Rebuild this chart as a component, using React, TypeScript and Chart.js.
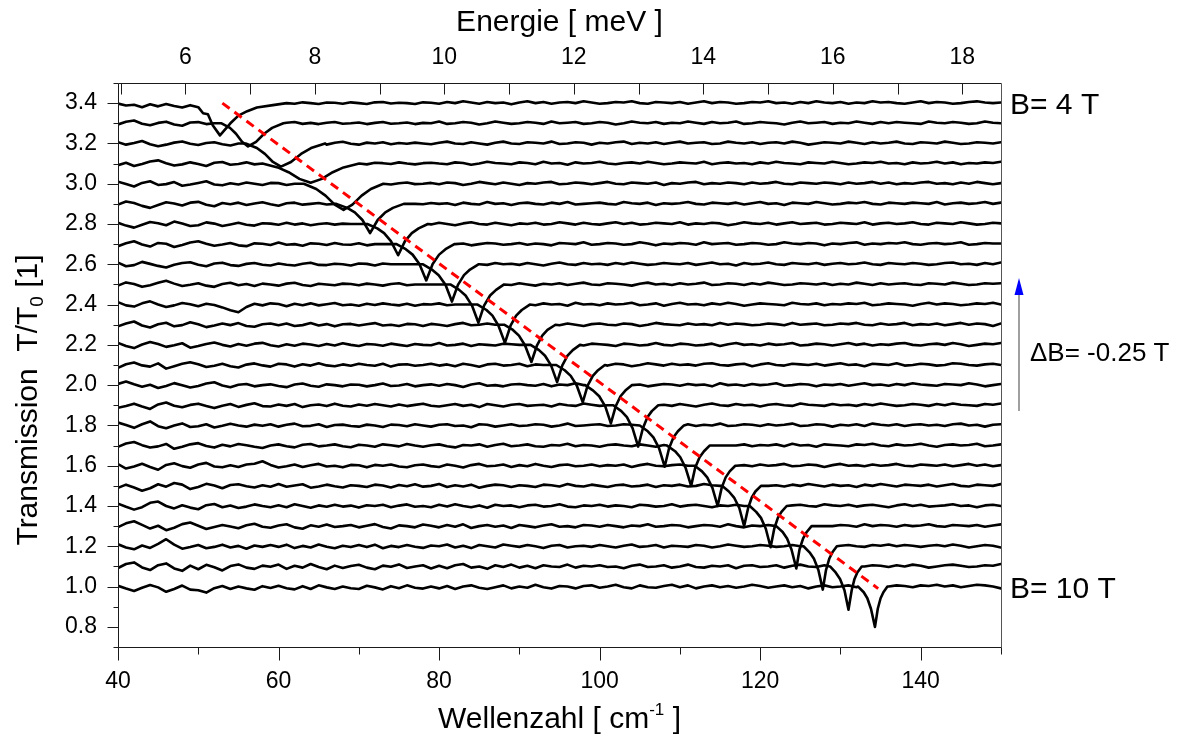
import React, { useEffect, useRef } from "react";
import { Chart, registerables } from "chart.js";

Chart.register(...registerables);

// ---------- axis definitions ----------
const CM_PER_MEV = 8.0655;
const wavenumberMin = 40;
const wavenumberMax = 150;
const transmissionMin = 0.7;
const transmissionMax = 3.5;
const wavenumberMajorTicks = [40, 60, 80, 100, 120, 140];
const wavenumberMinorTicks = [50, 70, 90, 110, 130, 150];
const energyMajorTicks = [6, 8, 10, 12, 14, 16, 18];
const energyMinorTicks = [5, 7, 9, 11, 13, 15, 17];
const transmissionMajorTicks = [0.8, 1.0, 1.2, 1.4, 1.6, 1.8, 2.0, 2.2, 2.4, 2.6, 2.8, 3.0, 3.2, 3.4];
const transmissionMinorTicks = [0.7, 0.9, 1.1, 1.3, 1.5, 1.7, 1.9, 2.1, 2.3, 2.5, 2.7, 2.9, 3.1, 3.3, 3.5];

// ---------- traces ----------
// magnetic field of each spectrum (bottom -> top) and its vertical offset
const fieldsTesla = [10, 9.75, 9.5, 9.25, 9, 8.75, 8.5, 8.25, 8, 7.75, 7.5, 7.25, 7, 6.75, 6.5, 6.25, 6, 5.75, 5.5, 5.25, 5, 4.75, 4.5, 4.25, 4];
const baselines = [1.0, 1.1, 1.2, 1.3, 1.4, 1.5, 1.6, 1.7, 1.8, 1.9, 2.0, 2.1, 2.2, 2.3, 2.4, 2.5, 2.6, 2.7, 2.8, 2.9, 3.0, 3.1, 3.2, 3.3, 3.4];

// sampling grid of the spectra (cm^-1), one point per wavenumber
const gridStart = 40;
const gridStep = 1;

// deviation from the baseline (units of 0.001) at x = 40,41,...,150
const devB10_00 = [4,-10,-22,-6,8,-4,-26,-12,5,-15, -18,-30,-8,3,-12,0,-9,-16,2,-7, 4,-8,-14,2,-12,6,-4,-12,0,-8, -12,4,-4,-14,2,-8,6,-6,-10,0, -9,3,-12,0,6,-6,-12,-3,6,-9, 0,-6,9,-3,-10,3,0,-9,3,6, -6,0,9,-3,-9,6,-3,-6,3,9, -3,6,-9,0,6,-3,3,-6,0,9, 3,-6,0,6,-3,3,-9,0,6,-3, 0,6,-3,3,0,0,0,6,3,-3, 6,3,9,0,6,-3,3,9,6,0, -9];
const devB09_75 = [-8,12,20,-5,-18,6,15,-10,-22,4, -14,8,-4,-20,2,10,-6,-12,4,-2, 9,-12,3,-6,12,-3,-14,4,-8,2, 8,-6,-14,4,-2,10,-8,0,6,-10, 3,-9,6,12,-6,0,-12,6,-3,9, -6,3,-9,6,0,-3,9,-6,3,0, 6,-3,0,-9,3,9,-3,0,6,-6, 0,9,-3,-6,3,0,6,-9,3,6, -3,0,6,-6,3,9,0,-3,6,0, 3,0,0,0,6,3,-3,6,0,9, 3,-6,0,6,9,3,-3,0,6,3, 12];
const devB09_50 = [10,-6,-15,4,-8,12,35,8,-12,-4, 6,-10,-3,8,-6,2,-12,4,-3,6, -3,8,-9,2,-6,9,-2,-10,3,-4, 6,-4,8,-10,2,-4,6,-2,-8,4, 0,9,-6,3,-9,6,0,-6,9,3, -3,6,0,-9,3,6,-6,0,3,-3, 6,0,-6,3,9,-3,0,6,-6,3, 0,-3,6,3,-6,0,9,3,-3,0, 6,3,-3,0,6,0,0,0,0,0, 3,6,0,-3,6,3,9,0,6,3, -3,3,6,0,9,3,-6,0,6,3, -6];
const devB09_25 = [-5,14,24,6,-12,2,-20,-8,10,18, 2,-14,-4,6,-2,-10,4,12,-3,-8, 3,9,-6,-13,4,-3,8,-4,0,6, -6,2,10,-4,-12,4,0,-6,8,2, -6,6,-3,9,-9,0,6,-3,3,-9, 6,0,-6,3,9,-3,0,-6,6,3, -3,6,0,-6,3,0,9,-3,0,6, 3,-6,0,6,3,-3,9,0,-6,3, 0,6,-3,3,0,0,0,0,0,0, 6,3,-3,9,0,6,3,-3,6,0, 3,9,0,-3,6,3,0,6,-3,3, 9];
const devB09_00 = [12,-4,-18,-6,16,22,0,-12,4,-8, -16,4,10,-6,2,-10,-3,8,0,-6, 4,-6,9,0,-9,3,-4,6,-3,2, -8,4,0,6,-6,2,8,-4,0,-6, 6,-3,9,0,-6,3,-9,6,0,3, -6,3,6,-3,0,9,-3,-6,3,0, 6,-3,3,0,-6,6,3,-3,0,9, -3,3,6,0,-6,3,0,6,0,0, 0,0,0,0,3,6,0,-3,9,3, 0,6,-3,3,6,0,-6,3,9,0, 6,-3,0,3,9,0,3,-6,3,6, 0];
const devB08_75 = [-10,6,-8,-24,-12,8,-4,14,6,-16, -6,10,2,-12,4,8,-2,-8,3,-4, 9,-4,2,8,-9,-3,6,-2,-8,3, 0,-6,6,2,-8,4,-2,8,-4,0, 9,-6,3,-3,6,-9,0,6,3,-6, 3,0,-6,6,3,-3,9,0,-3,6, 0,-6,3,6,-3,0,6,-6,3,0, 6,-3,0,9,3,0,0,0,0,0, 0,0,3,-3,6,0,9,3,-3,6, 0,3,-6,6,0,9,3,-3,6,3, 0,6,-3,3,9,0,-3,6,3,0, 9];
const devB08_50 = [8,-14,-4,10,-6,-20,4,12,-2,-10, 6,14,-4,-8,2,-6,6,10,22,4, -9,-3,6,-6,2,9,-4,0,-8,4, 2,-8,4,0,6,-4,-8,2,6,-2, -6,6,0,-9,3,9,-3,0,6,-6, 3,-3,9,0,-6,3,6,-3,0,6, -3,3,0,6,-6,3,9,0,-3,3, 6,0,0,0,0,0,0,0,3,-3, 6,0,3,9,-3,0,6,3,-6,3, 9,0,3,-3,6,0,3,9,0,-3, 6,3,0,6,-3,3,9,0,6,-3, 3];
const devB08_25 = [-6,10,18,2,-10,-4,8,-16,-6,6, 12,-2,-10,4,-4,8,2,-6,-12,0, 6,-3,-9,4,8,-4,0,6,-3,-8, 4,0,-6,6,2,-4,8,0,-6,2, 6,-3,-9,3,0,6,-6,3,9,-3, 0,6,-3,-6,3,0,9,-3,3,0, -6,3,6,0,-3,6,0,-6,3,6, 0,0,0,0,0,0,0,0,6,-3, 3,0,6,-3,9,0,3,-6,6,3, 0,-3,6,3,9,0,-3,6,0,3, 9,0,-6,3,6,0,3,9,-3,0, 6];
const devB08_00 = [14,2,-12,6,20,-4,-14,0,10,-8, -4,6,-10,-2,8,0,-6,4,-2,6, -6,3,9,-4,-2,6,-8,2,4,-3, -6,4,0,-8,4,2,-4,6,0,-6, 3,6,-3,0,-9,6,3,-6,0,6, -3,0,6,3,-6,0,9,-3,0,3, 6,-3,0,6,3,0,0,0,0,0, 0,6,-3,3,0,9,-3,0,6,3, -3,6,0,3,9,-3,0,6,3,-6, 3,0,6,-3,9,3,0,6,-3,3, 6,0,3,-3,6,9,0,3,-6,3, 6];
const devB07_75 = [-12,-4,8,-6,-18,4,14,-2,-10,2, 8,-4,-14,-2,6,-8,2,10,-4,-6, 4,-3,6,-9,0,4,-4,8,-2,-6, 4,-2,6,0,-6,4,-4,2,8,-2, -6,0,6,-3,3,-9,6,0,-6,3, 6,-3,0,3,-6,6,0,-3,9,3, -3,0,0,0,0,0,0,0,3,-3, 6,0,-6,3,9,0,-3,6,0,3, -6,3,6,0,-3,9,3,0,-3,6, 0,3,-3,6,0,9,3,-3,0,6, 3,-3,6,0,9,3,0,-3,6,3, 9];
const devB07_50 = [6,18,4,-8,2,-14,-4,10,0,-12, -4,8,14,-2,-10,2,6,-6,0,4, -4,-10,3,8,-3,-8,4,0,-6,3, 2,-6,0,8,-4,-2,6,-6,0,4, -3,6,0,-9,3,9,-3,0,-6,3, 6,0,-3,6,-6,3,0,9,0,0, 0,0,0,0,0,3,-6,0,6,3, -3,6,0,3,-6,9,0,3,-3,6, 0,3,9,-3,0,6,3,-6,3,0, 6,-3,3,9,0,3,-3,6,0,9, 3,0,-3,6,3,0,9,3,-6,0, 6];
const devB07_25 = [-14,4,12,-2,-8,8,-18,-6,6,14, 4,-10,-4,6,-6,-12,2,8,-2,-8, 6,3,-8,4,-3,9,-2,-6,3,-4, 6,0,-4,6,-8,2,4,-4,0,6, -3,3,-6,6,0,-9,3,6,-3,0, 6,-6,3,0,0,0,0,0,0,0, 0,-3,6,3,-6,0,9,3,-3,6, 0,3,-3,6,9,0,-3,3,6,-6, 3,9,0,-3,6,3,0,6,-3,3, 9,0,3,-6,6,3,0,9,-3,0, 6,3,-3,0,9,6,0,-3,3,6, 0];
const devB07_00 = [10,-6,-16,2,14,4,-10,-2,8,-14, -6,4,12,0,-8,4,-4,6,10,-2, -8,3,-4,6,2,-6,4,-3,8,0, -6,4,2,-4,6,0,-6,4,0,-2, 9,-3,0,6,-6,3,0,-3,6,3, 0,0,0,0,0,0,0,0,-3,6, 3,0,-6,6,3,-3,0,9,0,-3, 6,3,-3,0,6,-6,3,9,0,3, -3,6,0,3,9,-3,0,6,3,-3, 3,9,0,6,-3,3,0,6,9,0, -3,3,6,0,9,3,-6,0,6,3, 9];
const devB06_75 = [-8,6,16,-4,-14,2,10,-8,-2,12, 2,-12,-4,6,-2,8,-6,-10,2,6, -3,6,-6,-2,8,-4,3,-8,2,4, -4,2,8,-4,0,-6,4,2,-6,4, 0,-6,3,9,-3,0,6,0,0,0, 0,0,0,0,0,-3,6,0,-6,3, 6,0,-3,6,3,-6,0,9,3,0, -3,6,0,3,-3,9,0,6,3,-3, 0,6,3,-3,9,0,3,6,-3,0, 6,3,9,0,-3,6,0,3,9,-3, 3,0,6,-3,3,9,0,6,3,-6, 6];
const devB06_50 = [12,-4,-10,6,16,0,-12,-4,8,2, -8,4,-2,-14,-28,-38,-12,4,-4,6, 3,-8,4,-3,6,-4,2,8,-3,0, -6,4,-2,6,0,-4,4,-6,2,0, 6,-3,0,0,0,0,0,0,0,0, 0,0,-3,6,0,3,-6,9,0,3, -3,6,0,3,9,-3,0,6,-6,3, 9,0,3,-3,6,0,9,3,-6,0, 6,3,0,-3,9,3,0,6,-3,3, 0,6,3,9,-3,0,6,3,0,-6, 3,9,0,6,3,-3,0,6,3,9, 0];
const devB06_25 = [-6,10,2,-12,-4,8,18,4,-8,-2, 6,-6,-12,2,8,-4,2,-8,4,0, -6,4,8,-3,-8,3,0,-4,4,2, -4,4,0,-6,2,6,-4,0,0,0, 0,0,0,0,0,0,0,0,0,-3, 6,0,-6,3,0,6,-3,3,9,0, -3,6,3,0,-6,3,9,0,3,-3, 6,0,3,9,-3,0,6,3,-3,6, 0,9,3,-3,0,6,3,0,6,-3, 3,0,9,3,-3,6,0,3,6,0, -3,6,3,0,9,3,-3,0,6,3, 6];
const devB06_00 = [8,-10,-4,12,2,-8,-16,-2,6,10, -2,-10,4,8,-4,-8,2,6,-2,-6, 4,-2,-6,3,8,-3,-4,3,0,-6, 4,2,-6,4,0,0,0,0,0,0, 0,0,0,0,0,0,-3,6,0,3, -3,6,0,-6,3,9,0,-3,6,0, 3,-3,6,0,9,3,-3,0,6,3, 0,6,-3,3,9,0,3,-6,6,0, 3,9,0,-3,6,3,0,6,-3,3, 6,0,3,9,0,-3,6,3,0,6, 3,-3,0,6,9,0,3,-3,6,0, 9];
const devB05_75 = [-10,4,14,-2,-12,6,2,-14,-4,8, 14,2,-8,-2,6,-6,-10,4,2,-4, 8,-3,0,-8,4,2,-4,6,-2,-3, 4,-6,0,0,0,0,0,0,0,0, 0,0,0,3,-6,0,6,3,-3,0, 6,-3,3,0,-6,6,3,0,9,-3, 0,6,3,-3,0,9,3,-6,3,0, 6,3,-3,9,0,3,6,-3,0,6, 3,-3,0,9,3,0,6,3,-6,3, 0,6,9,-3,3,0,6,3,9,0, -3,3,6,0,3,9,-3,0,6,3, 3];
const devB05_50 = [6,-8,-18,-4,10,4,-6,12,2,-10, -6,8,2,-10,-2,6,-4,-8,4,2, -4,6,-3,3,-6,0,4,-3,2,0, 0,0,0,0,0,0,0,0,0,-2, 6,0,-6,3,9,0,-3,6,0,-6, 3,0,6,-3,0,9,3,-3,6,0, -3,3,9,0,6,-3,0,6,3,0, 9,-3,3,0,6,3,-6,0,9,3, 0,6,-3,3,9,0,3,6,-3,0, 6,3,0,9,-3,3,6,0,3,9, 0,-3,6,3,0,9,3,-3,0,6, 3];
const devB05_25 = [-4,12,4,-10,-20,-6,8,2,-8,6, 10,-4,-12,4,-2,6,-6,2,8,-2, -9,3,6,-4,0,4,-3,0,0,0, 0,0,0,0,0,0,0,0,-2,4, 0,3,-6,6,0,-3,9,0,3,-6, 3,6,0,-3,6,0,9,-3,0,3, 6,0,-3,9,3,0,6,-6,3,0, 3,9,0,-3,6,3,0,6,-3,3, 9,0,3,-6,6,3,0,9,3,-3, 0,6,3,9,0,-3,6,3,0,6, 3,0,9,-3,3,6,0,3,9,0, 6];
const devB05_00 = [10,-2,-14,4,12,-6,-2,8,-10,-4, 4,12,-4,-8,2,-4,6,0,-6,4, 3,-6,0,0,0,0,0,0,0,0, 0,0,0,0,-4,2,6,-2,0,4, -3,6,3,-6,0,9,3,-3,6,0, -6,3,0,6,9,-3,0,6,3,-3, 3,9,0,-3,6,3,0,6,-6,3, 0,6,9,-3,3,0,6,3,-3,6, 0,3,9,0,-3,6,3,0,6,3, -3,6,0,3,9,0,6,-3,3,0, 6,9,0,3,-3,6,0,9,3,-3, 3];
const devB04_75 = [-8,4,-12,-2,10,16,2,-10,-4,6, -2,-12,4,8,-6,-2,6,-4,0,0, 0,0,0,0,0,0,0,0,0,0, 0,-4,4,2,-2,6,0,-4,2,4, 0,-3,6,3,-6,0,9,3,0,-3, 6,3,-3,9,0,3,-6,6,0,3, 9,0,-3,3,6,0,9,3,-3,0, 6,3,0,9,-3,3,6,0,3,-3, 6,0,9,3,0,-3,6,3,0,9, 3,-3,0,6,3,9,0,3,-3,6, 0,3,9,0,6,-3,3,0,6,3, 9];
const devB04_50 = [6,-6,2,12,-4,-14,-6,4,10,-2, -8,2,6,-4,-10,0,0,0,0,0, 0,0,0,0,0,0,-6,3,8,-2, -6,4,0,6,-4,2,-2,4,0,-4, 3,9,0,-3,6,0,-6,3,9,0, -3,6,3,0,9,-3,0,6,3,-6, 3,0,6,9,-3,3,0,6,-3,3, 9,0,3,6,-3,0,9,3,0,6, -3,3,6,0,9,3,-6,0,6,3, 0,9,3,-3,6,0,3,9,0,-3, 6,3,0,9,3,-3,0,6,3,0, 6];
const devB04_25 = [-6,8,14,-2,-10,2,8,-6,-12,4, 6,-4,0,0,0,0,0,0,0,0, 0,3,6,-3,2,-4,3,6,-2,0, 4,-4,2,6,-2,0,4,-4,2,0, 9,-3,0,6,3,-6,0,9,3,-3, 0,6,3,-3,9,0,3,6,-3,0, 6,3,-6,0,9,3,0,6,-3,3, 0,9,3,-3,6,0,3,9,-3,0, 6,3,0,-6,3,9,0,3,6,-3, 3,0,9,3,-3,6,0,6,3,0, -3,9,3,0,6,3,-3,0,9,3, 0];
const devB04_00 = [-2,-12,-8,-20,-6,-16,-4,-14,-22,-10, -20,0,0,0,0,0,0,0,0,0, 0,6,-3,4,0,-4,3,2,-3,4, 0,-4,4,6,-2,2,0,-4,4,2, -3,6,0,9,3,-3,6,0,3,-6, 3,9,0,6,-3,3,6,0,9,3, -3,0,6,3,9,0,-3,6,3,0, 6,-3,3,9,0,6,3,-3,0,6, 3,9,0,3,-3,6,0,9,3,0, 6,-3,3,0,9,3,6,0,-3,3, 9,0,6,3,-3,0,6,9,3,0, 3];

// cyclotron-resonance dip of each spectrum: [wavenumber, deviation (0.001)]
const dipB10_00 = [[132.2,0],[132.9,-28],[133.35,-58],[133.8,-110],[134.3,-200],[134.65,-110],[135.0,-58],[135.35,-28],[135.85,0]];
const dipB09_75 = [[128.7,0],[129.4,-30],[129.95,-62],[130.5,-118],[131.0,-215],[131.4,-118],[131.75,-62],[132.1,-30],[132.65,0]];
const dipB09_50 = [[125.4,0],[126.15,-30],[126.7,-62],[127.25,-118],[127.8,-215],[128.2,-118],[128.6,-62],[129.0,-30],[129.55,0]];
const dipB09_25 = [[122.0,0],[122.8,-29],[123.35,-61],[123.9,-116],[124.5,-210],[124.9,-116],[125.35,-61],[125.8,-29],[126.4,0]];
const dipB09_00 = [[118.7,0],[119.5,-29],[120.1,-59],[120.7,-113],[121.3,-205],[121.75,-113],[122.2,-59],[122.65,-29],[123.3,0]];
const dipB08_75 = [[115.25,0],[116.1,-28],[116.75,-58],[117.4,-110],[118.0,-200],[118.5,-110],[118.95,-58],[119.4,-28],[120.1,0]];
const dipB08_50 = [[111.85,0],[112.75,-28],[113.4,-58],[114.05,-110],[114.7,-200],[115.2,-110],[115.7,-58],[116.2,-28],[116.9,0]];
const dipB08_25 = [[108.4,0],[109.4,-28],[110.05,-58],[110.7,-110],[111.4,-200],[111.9,-110],[112.45,-58],[113.0,-28],[113.7,0]];
const dipB08_00 = [[105.0,0],[106.0,-29],[106.7,-59],[107.4,-113],[108.1,-205],[108.65,-113],[109.2,-59],[109.75,-29],[110.5,0]];
const dipB07_75 = [[101.7,0],[102.7,-29],[103.4,-59],[104.1,-113],[104.8,-205],[105.4,-113],[105.95,-59],[106.5,-29],[107.3,0]];
const dipB07_50 = [[98.2,0],[99.2,-27],[99.95,-55],[100.7,-105],[101.4,-190],[102.0,-105],[102.6,-55],[103.2,-27],[104.0,0]];
const dipB07_25 = [[94.6,0],[95.65,-26],[96.4,-54],[97.15,-102],[97.9,-185],[98.5,-102],[99.15,-54],[99.8,-26],[100.65,0]];
const dipB07_00 = [[91.4,0],[92.45,-26],[93.2,-54],[93.95,-102],[94.7,-185],[95.35,-102],[96.0,-54],[96.65,-26],[97.55,0]];
const dipB06_75 = [[88.1,0],[89.2,-26],[89.95,-54],[90.7,-102],[91.5,-185],[92.2,-102],[92.85,-54],[93.5,-26],[94.5,0]];
const dipB06_50 = [[84.8,0],[85.9,-27],[86.65,-55],[87.4,-105],[88.2,-190],[88.9,-105],[89.6,-55],[90.3,-27],[91.3,0]];
const dipB06_25 = [[81.4,0],[82.5,-27],[83.3,-55],[84.1,-105],[84.9,-190],[85.6,-105],[86.35,-55],[87.1,-27],[88.1,0]];
const dipB06_00 = [[78.0,0],[79.1,-26],[79.95,-54],[80.8,-102],[81.6,-185],[82.35,-102],[83.1,-54],[83.85,-26],[84.9,0]];
const dipB05_75 = [[74.7,0],[75.85,-25],[76.7,-52],[77.55,-99],[78.4,-180],[79.2,-99],[80.0,-52],[80.8,-25],[81.9,0]];
const dipB05_50 = [[71.05,0],[72.3,-22],[73.15,-45],[74.0,-85],[74.9,-155],[75.75,-85],[76.6,-45],[77.45,-22],[78.6,0]];
const dipB05_25 = [[67.2,0],[68.55,-20],[69.5,-42],[70.45,-80],[71.4,-145],[72.35,-80],[73.3,-42],[74.25,-20],[75.6,0]];
const dipB05_00 = [[63.15,0],[64.7,-26],[65.85,-59],[67.0,-104],[68.1,-130],[69.2,-104],[70.35,-59],[71.5,-26],[73.05,0]];
const dipB04_75 = [[58.0,0],[59.9,-19],[61.25,-43],[62.6,-76],[64.0,-95],[65.4,-76],[66.75,-43],[68.1,-19],[70.05,0]];
const dipB04_50 = [[55.9,0],[57.3,-23],[58.3,-52],[59.3,-92],[60.3,-115],[61.55,-92],[62.8,-52],[64.05,-23],[65.8,0]];
const dipB04_25 = [[52.9,0],[53.95,-23],[54.7,-52],[55.45,-92],[56.2,-115],[57.2,-92],[58.2,-52],[59.2,-23],[60.6,0]];
const dipB04_00 = [[50.0,-20],[50.6,-50],[51.2,-55],[51.8,-110],[52.7,-160],[54.0,-100],[55.0,-62],[56.1,-40],[57.3,-22],[59.3,-10],[61.0,0]];

const deviationTable = [devB10_00, devB09_75, devB09_50, devB09_25, devB09_00, devB08_75, devB08_50, devB08_25, devB08_00, devB07_75, devB07_50, devB07_25, devB07_00, devB06_75, devB06_50, devB06_25, devB06_00, devB05_75, devB05_50, devB05_25, devB05_00, devB04_75, devB04_50, devB04_25, devB04_00];
const dipTable = [dipB10_00, dipB09_75, dipB09_50, dipB09_25, dipB09_00, dipB08_75, dipB08_50, dipB08_25, dipB08_00, dipB07_75, dipB07_50, dipB07_25, dipB07_00, dipB06_75, dipB06_50, dipB06_25, dipB06_00, dipB05_75, dipB05_50, dipB05_25, dipB05_00, dipB04_75, dipB04_50, dipB04_25, dipB04_00];

// red guide line through the resonances
const guideLine = [
  { x: 53.0, y: 3.40 },
  { x: 134.7, y: 0.99 },
];

function buildTrace(base: number, dev: number[], dip: number[][]) {
  const lo = dip[0][0];
  const hi = dip[dip.length - 1][0];
  const pts: { x: number; y: number }[] = [];
  dev.forEach((d, k) => {
    const x = gridStart + k * gridStep;
    if (x < lo || x > hi) pts.push({ x, y: base + d / 1000 });
  });
  dip.forEach(([x, d]) => pts.push({ x, y: base + d / 1000 }));
  pts.sort((a, b) => a.x - b.x);
  return pts;
}

const FONT = "'Liberation Sans', Arial, Helvetica, sans-serif";
const TICK_FONT_SIZE = 23;

type Part = { t: string; size: number; dy: number };

function richWidth(ctx: CanvasRenderingContext2D, parts: Part[]) {
  let w = 0;
  for (const p of parts) {
    ctx.font = `${p.size}px ${FONT}`;
    w += ctx.measureText(p.t).width;
  }
  return w;
}

function drawRich(ctx: CanvasRenderingContext2D, parts: Part[], x: number, y: number, align: "center" | "left") {
  const w = richWidth(ctx, parts);
  let cx = align === "center" ? x - w / 2 : x;
  ctx.textAlign = "left";
  ctx.textBaseline = "alphabetic";
  for (const p of parts) {
    ctx.font = `${p.size}px ${FONT}`;
    ctx.fillText(p.t, cx, y + p.dy);
    cx += ctx.measureText(p.t).width;
  }
}

const decorations = {
  id: "decorations",
  afterDraw(chart: any) {
    const { ctx, chartArea: a } = chart;
    const sx = chart.scales.x;
    const sy = chart.scales.y;
    const st = chart.scales.x2;
    ctx.save();
    ctx.strokeStyle = "#1a1a1a";
    ctx.lineWidth = 1;
    const L = Math.round(a.left) + 0.5;
    const R = Math.round(a.right) + 0.5;
    const T = Math.round(a.top) + 0.5;
    const B = Math.round(a.bottom) + 0.5;
    const seg = (x1: number, y1: number, x2: number, y2: number) => {
      ctx.beginPath();
      ctx.moveTo(x1, y1);
      ctx.lineTo(x2, y2);
      ctx.stroke();
    };
    // frame
    seg(L, T, R, T);
    seg(L, B, R, B);
    seg(L, T, L, B);
    ctx.strokeStyle = "#555";
    seg(R, T, R, B);
    ctx.strokeStyle = "#1a1a1a";
    // bottom ticks (outward)
    for (const v of wavenumberMajorTicks) {
      const px = Math.round(sx.getPixelForValue(v)) + 0.5;
      seg(px, B, px, B + 13);
    }
    for (const v of wavenumberMinorTicks) {
      const px = Math.round(sx.getPixelForValue(v)) + 0.5;
      seg(px, B, px, B + 7);
    }
    // top ticks (inward)
    for (const v of energyMajorTicks.concat(energyMinorTicks)) {
      const px = Math.round(st.getPixelForValue(v)) + 0.5;
      seg(px, T, px, T + 11);
    }
    // left ticks (outward)
    for (const v of transmissionMajorTicks) {
      const py = Math.round(sy.getPixelForValue(v)) + 0.5;
      seg(L - 11, py, L, py);
    }
    for (const v of transmissionMinorTicks) {
      const py = Math.round(sy.getPixelForValue(v)) + 0.5;
      seg(L - 5, py, L, py);
    }
    // texts
    ctx.fillStyle = "#000";
    const midX = (a.left + a.right) / 2;
    drawRich(ctx, [{ t: "Energie [ meV ]", size: 30, dy: 0 }], midX, 31, "center");
    drawRich(
      ctx,
      [
        { t: "Wellenzahl [ cm", size: 30, dy: 0 },
        { t: "-1", size: 17, dy: -13 },
        { t: " ]", size: 30, dy: 0 },
      ],
      midX,
      728,
      "center"
    );
    ctx.save();
    ctx.translate(37, 400);
    ctx.rotate(-Math.PI / 2);
    drawRich(
      ctx,
      [
        { t: "Transmission  T/T", size: 30, dy: 0 },
        { t: "0", size: 19, dy: 6 },
        { t: " [1]", size: 30, dy: 0 },
      ],
      0,
      0,
      "center"
    );
    ctx.restore();
    const yTop = sy.getPixelForValue(baselines[baselines.length - 1]);
    const yBot = sy.getPixelForValue(baselines[0]);
    drawRich(ctx, [{ t: `B= ${fieldsTesla[fieldsTesla.length - 1]} T`, size: 30, dy: 0 }], 1010, yTop + 11, "left");
    drawRich(ctx, [{ t: `B= ${fieldsTesla[0]} T`, size: 30, dy: 0 }], 1010, yBot + 11, "left");
    // arrow
    ctx.strokeStyle = "#808080";
    ctx.lineWidth = 1.5;
    seg(1019, 411, 1019, 292);
    ctx.fillStyle = "#0000ff";
    ctx.beginPath();
    ctx.moveTo(1019, 278);
    ctx.lineTo(1023.5, 295);
    ctx.lineTo(1014.5, 295);
    ctx.closePath();
    ctx.fill();
    ctx.fillStyle = "#000";
    drawRich(ctx, [{ t: "\u0394B= -0.25 T", size: 26, dy: 0 }], 1030, 361, "left");
    ctx.restore();
  },
};

export default function App() {
  const ref = useRef<HTMLCanvasElement | null>(null);
  useEffect(() => {
    if (!ref.current) return;
    Chart.defaults.font.family = FONT;
    Chart.defaults.color = "#000";
    const traceSets = baselines.map((b, i) => ({
      label: `B = ${fieldsTesla[i]} T`,
      data: buildTrace(b, deviationTable[i], dipTable[i]),
      borderColor: "#000",
      borderWidth: 2.6,
      pointRadius: 0,
      tension: 0,
      fill: false,
      borderJoinStyle: "round" as const,
      borderCapStyle: "round" as const,
    }));
    const chart = new Chart(ref.current, {
      type: "line",
      data: {
        datasets: [
          {
            label: "guide",
            data: guideLine,
            borderColor: "#ff0000",
            borderWidth: 3,
            borderDash: [9, 6],
            pointRadius: 0,
            fill: false,
          } as any,
          ...traceSets,
        ],
      },
      options: {
        responsive: false,
        animation: false,
        devicePixelRatio: 1,
        events: [],
        layout: { padding: { left: 0, right: 177, top: 0, bottom: 0 } },
        plugins: { legend: { display: false }, tooltip: { enabled: false } },
        scales: {
          x: {
            type: "linear",
            position: "bottom",
            min: wavenumberMin,
            max: wavenumberMax,
            afterBuildTicks: (s: any) => {
              s.ticks = wavenumberMajorTicks.map((v) => ({ value: v }));
            },
            afterFit: (s: any) => {
              s.height = 87;
            },
            grid: { display: false, drawTicks: false },
            border: { display: false },
            ticks: { padding: 21, font: { size: TICK_FONT_SIZE }, color: "#000", maxRotation: 0, callback: (v: any) => String(v) },
          },
          x2: {
            type: "linear",
            position: "top",
            min: wavenumberMin / CM_PER_MEV,
            max: wavenumberMax / CM_PER_MEV,
            afterBuildTicks: (s: any) => {
              s.ticks = energyMajorTicks.map((v) => ({ value: v }));
            },
            afterFit: (s: any) => {
              s.height = 83;
            },
            grid: { display: false, drawTicks: false },
            border: { display: false },
            ticks: { padding: 12, font: { size: TICK_FONT_SIZE }, color: "#000", maxRotation: 0, callback: (v: any) => String(v) },
          },
          y: {
            type: "linear",
            position: "left",
            min: transmissionMin,
            max: transmissionMax,
            afterBuildTicks: (s: any) => {
              s.ticks = transmissionMajorTicks.map((v) => ({ value: v }));
            },
            afterFit: (s: any) => {
              s.width = 118;
            },
            grid: { display: false, drawTicks: false },
            border: { display: false },
            ticks: { padding: 21, font: { size: TICK_FONT_SIZE }, color: "#000", callback: (v: any) => Number(v).toFixed(1) },
          },
        },
      },
      plugins: [decorations],
    } as any);
    return () => chart.destroy();
  }, []);
  return (
    <div style={{ position: "absolute", left: 0, top: 0, width: 1178, height: 734, background: "#fff" }}>
      <canvas ref={ref} width={1178} height={734} style={{ width: 1178, height: 734, display: "block" }} />
    </div>
  );
}
